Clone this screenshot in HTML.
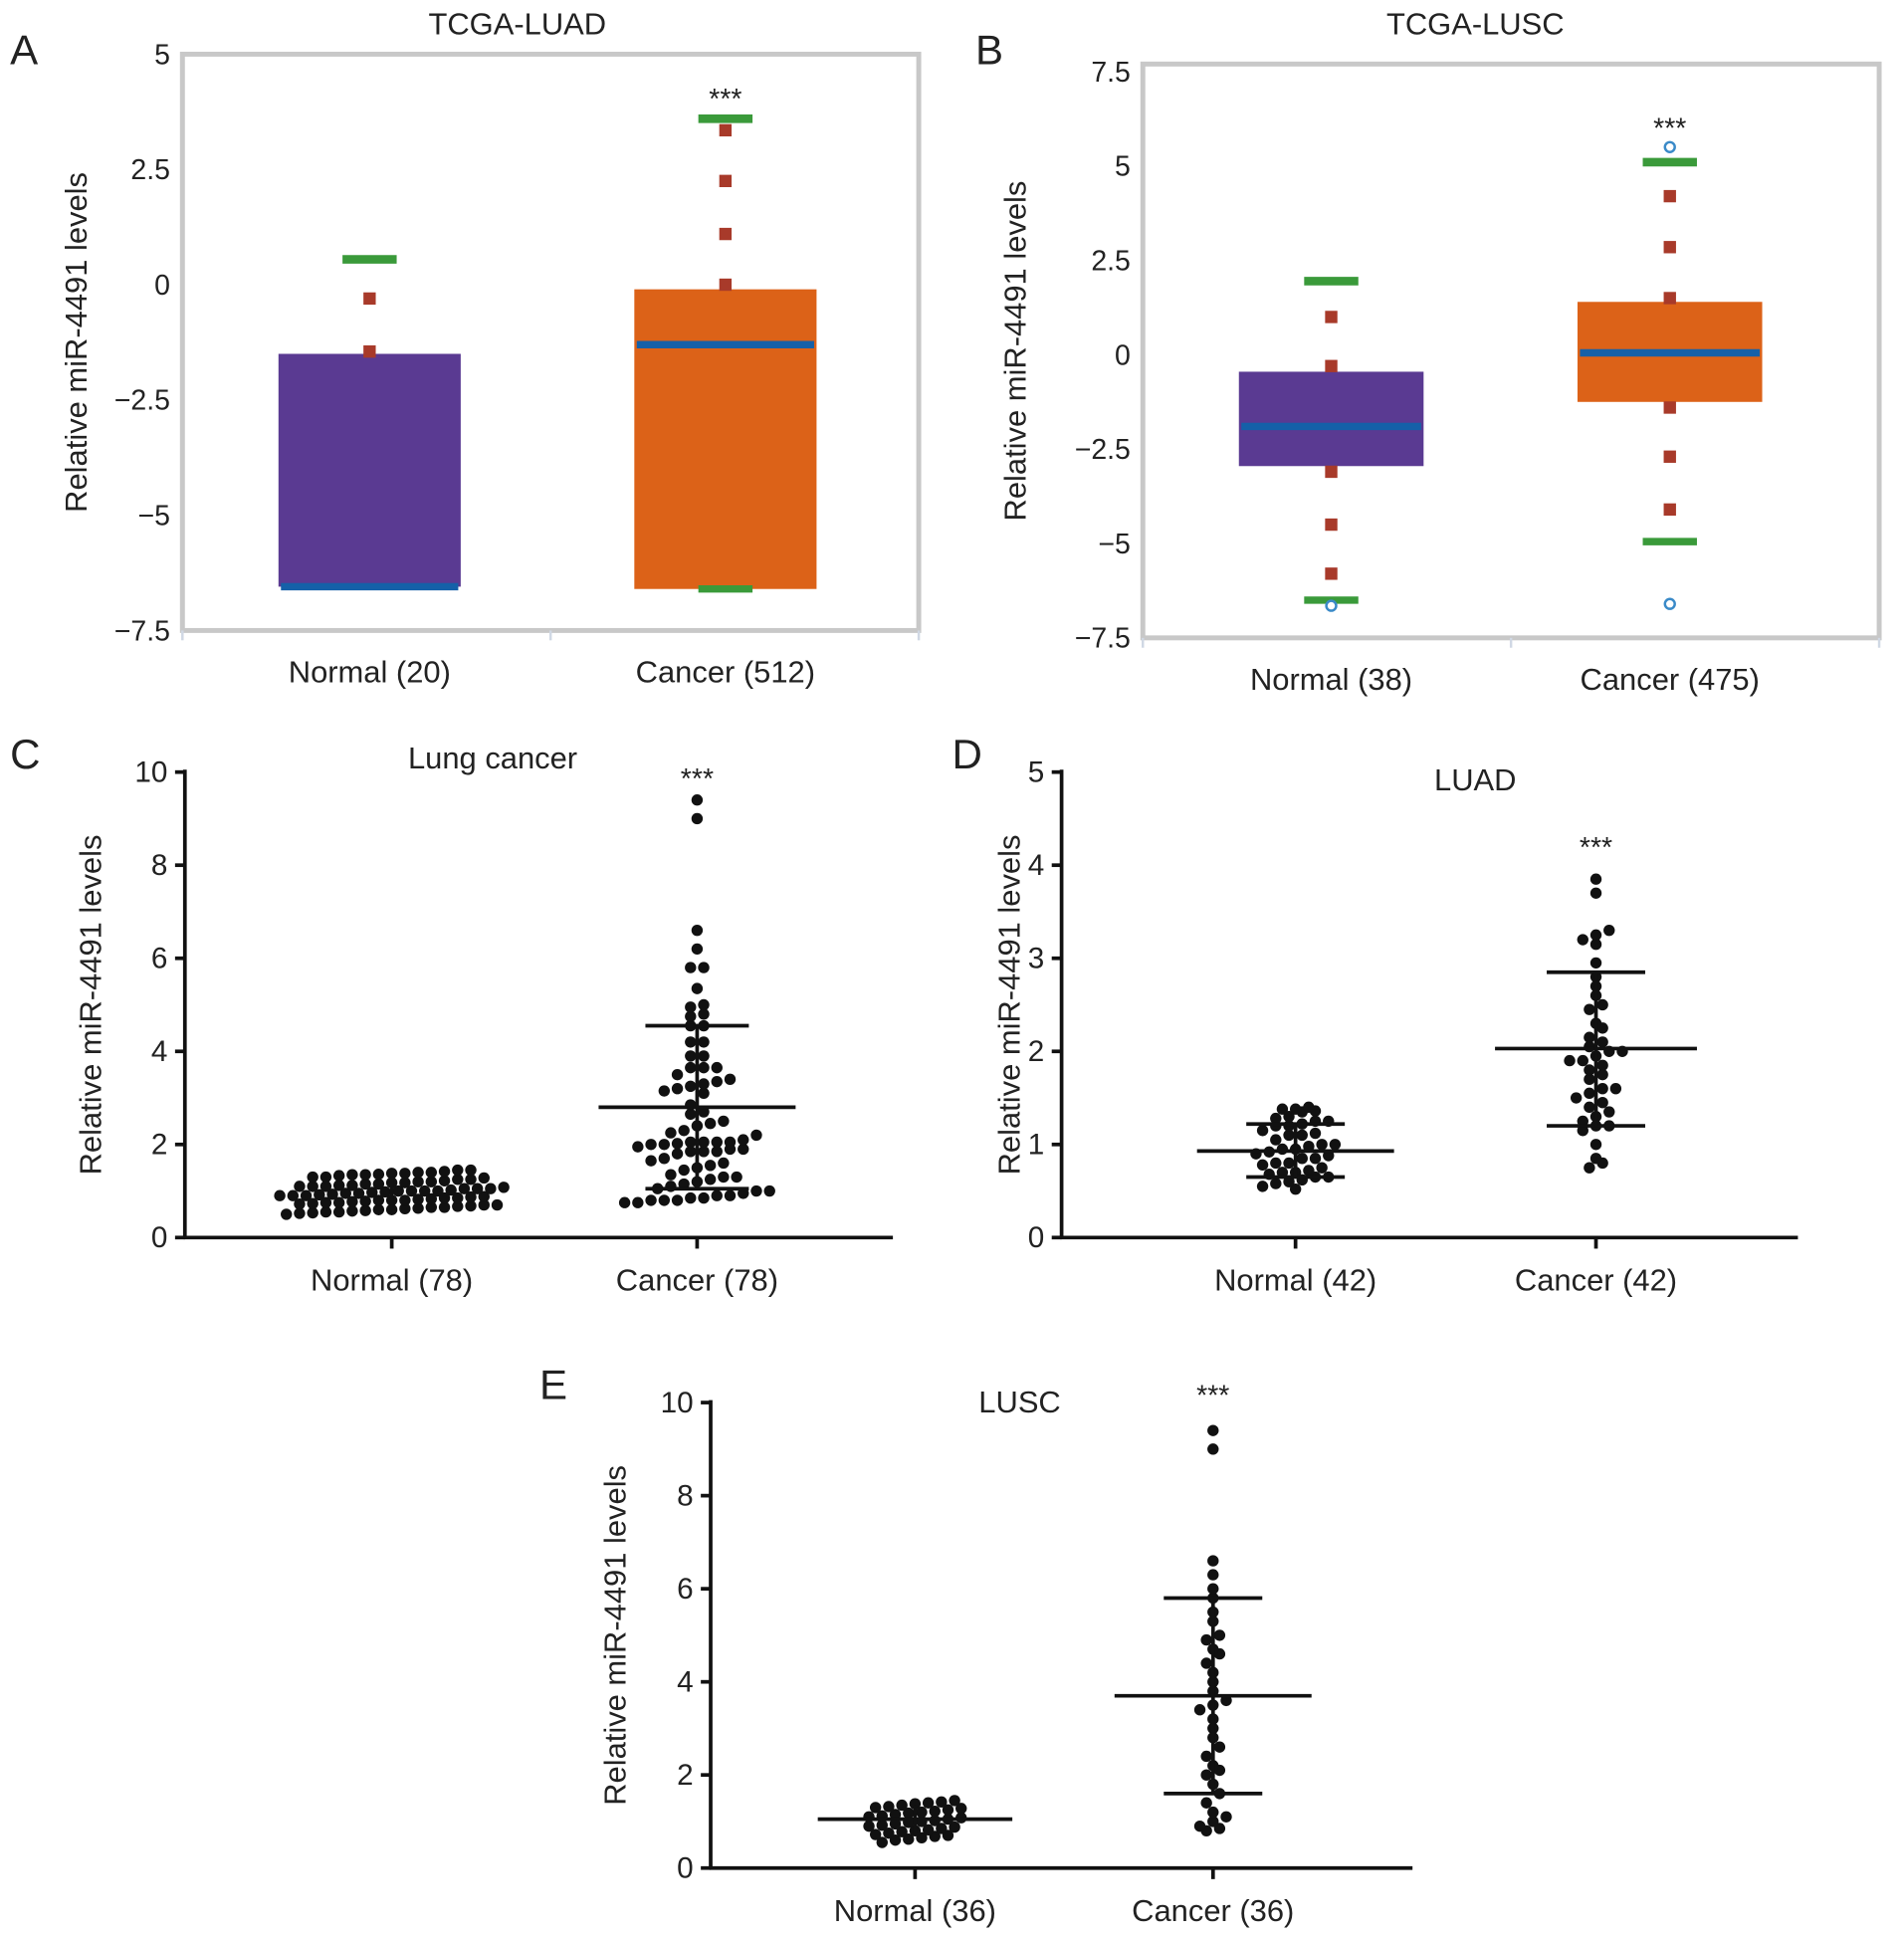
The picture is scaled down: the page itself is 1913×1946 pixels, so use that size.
<!DOCTYPE html>
<html><head><meta charset="utf-8"><style>
html,body{margin:0;padding:0;background:#fff}
svg{display:block}
text{font-family:"Liberation Sans",Arial,sans-serif;fill:#222}
</style></head><body>
<svg id="fig" width="1913" height="1946" viewBox="0 0 1546 1573" xmlns="http://www.w3.org/2000/svg"></svg>
<script>
// ---------- Panel A data ----------
const aCategories = ["Normal (20)", "Cancer (512)"];
const aQ1 = [-6.55, -6.6];
const aQ3 = [-1.5, -0.1];
const aMedian = [-6.55, -1.3];
const aWhiskerHi = [0.55, 3.6];
const aWhiskerLo = [null, -6.6];
const aOutliers = [[-0.3, -1.45], [3.35, 2.25, 1.1, 0.0]];
const aCircles = [[], []];
const aTicks = [5, 2.5, 0, -2.5, -5, -7.5];
const aTickLabels = ["5", "2.5", "0", "\u22122.5", "\u22125", "\u22127.5"];
// ---------- Panel B data ----------
const bCategories = ["Normal (38)", "Cancer (475)"];
const bQ1 = [-2.95, -1.25];
const bQ3 = [-0.45, 1.4];
const bMedian = [-1.9, 0.05];
const bWhiskerHi = [1.95, 5.1];
const bWhiskerLo = [-6.5, -4.95];
const bOutliers = [[1.0, -0.3, -3.1, -4.5, -5.8], [4.2, 2.85, 1.5, -1.4, -2.7, -4.1]];
const bCircles = [[-6.65], [5.5, -6.6]];
const bTicks = [7.5, 5, 2.5, 0, -2.5, -5, -7.5];
const bTickLabels = ["7.5", "5", "2.5", "0", "\u22122.5", "\u22125", "\u22127.5"];
// ---------- Panel C data ----------
const cCategories = ["Normal (78)", "Cancer (78)"];
const cNormal = [1.45,1.45,1.42,1.4,1.4,1.38,1.38,1.36,1.35,1.35,1.33,1.3,1.3,1.28,1.25,1.25,1.22,1.2,1.2,1.18,1.15,1.15,1.12,1.1,1.1,1.1,1.08,1.05,1.05,1.05,1.02,1.0,1.0,1.0,0.98,0.97,0.95,0.95,0.93,0.92,0.9,0.9,0.88,0.87,0.85,0.85,0.83,0.82,0.8,0.8,0.8,0.78,0.77,0.75,0.75,0.73,0.72,0.7,0.7,0.68,0.67,0.65,0.65,0.63,0.62,0.6,0.6,0.58,0.57,0.55,0.55,0.53,0.52,0.5,1.12,1.18,0.9,1.0];
const cCancer = [9.4,9.0,6.6,6.2,5.8,5.8,5.35,5.0,4.95,4.8,4.75,4.55,4.55,4.2,4.2,3.9,3.9,3.65,3.65,3.65,3.5,3.4,3.35,3.3,3.25,3.2,3.15,3.1,2.85,2.7,2.65,2.5,2.45,2.4,2.3,2.25,2.2,2.1,2.05,2.05,2.05,2.05,2.02,2.0,2.0,1.95,1.9,1.9,1.85,1.85,1.85,1.8,1.7,1.65,1.6,1.55,1.5,1.45,1.35,1.3,1.3,1.25,1.2,1.15,1.1,1.05,1.0,1.0,0.95,0.9,0.9,0.85,0.85,0.8,0.8,0.8,0.75,0.75];
const cMean = [1.0, 2.8];
const cSdHi = [1.3, 4.55];
const cSdLo = [0.7, 1.05];
const cTicks = [0, 2, 4, 6, 8, 10];
// ---------- Panel D data ----------
const dCategories = ["Normal (42)", "Cancer (42)"];
const dNormal = [1.4,1.38,1.38,1.36,1.35,1.3,1.28,1.25,1.25,1.22,1.2,1.2,1.15,1.12,1.1,1.1,1.05,1.0,1.0,0.98,0.95,0.95,0.92,0.9,0.88,0.85,0.85,0.8,0.8,0.78,0.75,0.72,0.7,0.7,0.68,0.65,0.65,0.62,0.6,0.58,0.55,0.52];
const dCancer = [3.85,3.7,3.3,3.25,3.2,3.15,2.95,2.8,2.7,2.6,2.5,2.45,2.3,2.25,2.15,2.1,2.05,2.0,2.0,1.95,1.9,1.9,1.85,1.8,1.75,1.7,1.6,1.6,1.55,1.5,1.45,1.4,1.35,1.3,1.25,1.2,1.2,1.15,1.0,0.85,0.8,0.75];
const dMean = [0.93, 2.03];
const dSdHi = [1.22, 2.85];
const dSdLo = [0.65, 1.2];
const dTicks = [0, 1, 2, 3, 4, 5];
// ---------- Panel E data ----------
const eCategories = ["Normal (36)", "Cancer (36)"];
const eNormal = [1.45,1.42,1.4,1.38,1.35,1.32,1.3,1.28,1.25,1.22,1.2,1.18,1.15,1.12,1.1,1.08,1.05,1.02,1.0,0.98,0.95,0.92,0.9,0.88,0.85,0.82,0.8,0.78,0.75,0.72,0.7,0.68,0.65,0.62,0.6,0.55];
const eCancer = [9.4,9.0,6.6,6.3,6.0,5.8,5.5,5.3,5.0,4.9,4.7,4.6,4.4,4.2,4.0,3.8,3.6,3.5,3.4,3.2,3.0,2.8,2.6,2.4,2.2,2.1,2.0,1.8,1.6,1.4,1.2,1.1,1.0,0.9,0.85,0.8];
const eMean = [1.05, 3.7];
const eSdHi = [1.35, 5.8];
const eSdLo = [0.75, 1.6];
const eTicks = [0, 2, 4, 6, 8, 10];

const NS = "http://www.w3.org/2000/svg";
const svg = document.getElementById("fig");
function mk(tag, attrs, parent, name, inter) {
  const e = document.createElementNS(NS, tag);
  for (const k in attrs) e.setAttribute(k, attrs[k]);
  
  
  (parent || svg).appendChild(e);
  return e;
}
function txt(s, x, y, size, anchor, parent, name, extra) {
  const t = mk("text", Object.assign({x: x, y: y, "font-size": size, "text-anchor": anchor || "middle"}, extra || {}), parent, name);
  t.textContent = s;
  return t;
}
function scale(d0, d1, r0, r1) { return v => r0 + (v - d0) * (r1 - r0) / (d1 - d0); }

function boxPanel(o) {
  const g = mk("g", {}, svg, o.name);
  const y = scale(o.ymax, o.ymin, o.top, o.bottom);
  mk("rect", {x: o.left, y: o.top, width: o.right - o.left, height: o.bottom - o.top, fill: "none", stroke: "#c8c8c8", "stroke-width": 4}, g, "plot-frame");
  o.ticks.forEach((t, i) => {
    txt(o.tickLabels[i], o.left - 10, y(t) + 8, 23, "end", g, "y-tick-label");
  });
  const half = (o.right - o.left) / 2;
  [o.left, o.left + half, o.right].forEach(xx => mk("line", {x1: xx, x2: xx, y1: o.bottom, y2: o.bottom + 8, stroke: "#d0d8e4", "stroke-width": 2}, g, "x-tick"));
  o.cats.forEach((c, i) => {
    const cx = o.cx[i], hw = o.boxW / 2;
    txt(c, cx, o.bottom + 42, 25, "middle", g, "x-category-label");
    mk("rect", {x: cx - hw, y: y(o.q3[i]), width: o.boxW, height: y(o.q1[i]) - y(o.q3[i]), fill: o.colors[i]}, g, "box-" + (i ? "cancer" : "normal"));
    mk("line", {x1: cx - hw + 2, x2: cx + hw - 2, y1: y(o.med[i]), y2: y(o.med[i]), stroke: "#1560a8", "stroke-width": 6}, g, "median-line");
    if (o.whi[i] !== null) mk("line", {x1: cx - 22, x2: cx + 22, y1: y(o.whi[i]), y2: y(o.whi[i]), stroke: "#3a9a3a", "stroke-width": 7}, g, "whisker-cap-high");
    if (o.wlo[i] !== null) mk("line", {x1: cx - 22, x2: cx + 22, y1: y(o.wlo[i]), y2: y(o.wlo[i]), stroke: "#3a9a3a", "stroke-width": 6}, g, "whisker-cap-low");
    o.out[i].forEach(v => mk("rect", {x: cx - 5, y: y(v) - 5, width: 10, height: 10, fill: "#a83a2a"}, g, "outlier-point"));
    o.circ[i].forEach(v => mk("circle", {cx: cx, cy: y(v), r: 4, fill: "#fff", stroke: "#3a8ac8", "stroke-width": 2}, g, "extreme-point"));
  });
  txt(o.title, o.titleX, 28, 25, "middle", g, "panel-title");
  txt("***", o.cx[1], o.starY, 23, "middle", g, "significance-marker");
  txt("Relative miR-4491 levels", 0, 0, 25, "middle", g, "y-axis-title", {transform: "translate(" + o.ytX + "," + ((o.top + o.bottom) / 2) + ") rotate(-90)"});
  txt(o.letter, o.letterX, 52, 34, "start", g, "panel-letter");
}
boxPanel({name: "panel-a", letter: "A", letterX: 8, left: 148, right: 746, top: 44, bottom: 512, ymax: 5, ymin: -7.5,
  ticks: aTicks, tickLabels: aTickLabels, cats: aCategories, cx: [300, 589], boxW: 148,
  q1: aQ1, q3: aQ3, med: aMedian, whi: aWhiskerHi, wlo: aWhiskerLo, out: aOutliers, circ: aCircles,
  colors: ["#5a3a92", "#dc6218"], title: "TCGA-LUAD", titleX: 420, starY: 88, ytX: 70});
boxPanel({name: "panel-b", letter: "B", letterX: 792, left: 928, right: 1526, top: 52, bottom: 518, ymax: 7.7, ymin: -7.5,
  ticks: bTicks, tickLabels: bTickLabels, cats: bCategories, cx: [1081, 1356], boxW: 150,
  q1: bQ1, q3: bQ3, med: bMedian, whi: bWhiskerHi, wlo: bWhiskerLo, out: bOutliers, circ: bCircles,
  colors: ["#5a3a92", "#dc6218"], title: "TCGA-LUSC", titleX: 1198, starY: 112, ytX: 833});

// row-binned scatter layout (positions derived from values)
function swarm(vals, cx, y, r, bin) {
  const rows = {};
  vals.slice().sort((a, b) => a - b).forEach(v => {
    const k = Math.round(v / bin);
    (rows[k] = rows[k] || []).push(v);
  });
  const pts = [];
  Object.keys(rows).forEach(k => {
    const row = rows[k], n = row.length, sp = 2 * r + 1.5;
    row.forEach((v, j) => pts.push([cx + (j - (n - 1) / 2) * sp, y(v)]));
  });
  return pts;
}
function dotPanel(o) {
  const g = mk("g", {}, svg, o.name);
  const y = scale(0, o.ymax, o.y0, o.yTop);
  mk("line", {x1: o.left, x2: o.left, y1: o.yTop - 2, y2: o.y0 + 1, stroke: "#111", "stroke-width": 3}, g, "y-axis-line");
  mk("line", {x1: o.left - 1, x2: o.right, y1: o.y0, y2: o.y0, stroke: "#111", "stroke-width": 3}, g, "x-axis-line");
  o.ticks.forEach(t => {
    mk("line", {x1: o.left - 8, x2: o.left, y1: y(t), y2: y(t), stroke: "#111", "stroke-width": 3}, g, "y-tick");
    txt(String(t), o.left - 14, y(t) + 8, 24, "end", g, "y-tick-label");
  });
  const series = [o.normal, o.cancer];
  o.cats.forEach((c, i) => {
    const cx = o.cx[i];
    mk("line", {x1: cx, x2: cx, y1: o.y0, y2: o.y0 + 9, stroke: "#111", "stroke-width": 3}, g, "x-tick");
    txt(c, cx, o.y0 + 43, 25, "middle", g, "x-category-label");
    swarm(series[i], cx, y, 4.6, o.bins[i]).forEach(p => mk("circle", {cx: p[0], cy: p[1], r: 4.6, fill: "#111"}, g, "data-point"));
    const mw = o.meanW[i], sw = o.sdW[i];
    mk("line", {x1: cx - mw, x2: cx + mw, y1: y(o.mean[i]), y2: y(o.mean[i]), stroke: "#111", "stroke-width": 3}, g, "mean-line");
    mk("line", {x1: cx - sw, x2: cx + sw, y1: y(o.hi[i]), y2: y(o.hi[i]), stroke: "#111", "stroke-width": 3}, g, "sd-cap-high");
    mk("line", {x1: cx - sw, x2: cx + sw, y1: y(o.lo[i]), y2: y(o.lo[i]), stroke: "#111", "stroke-width": 3}, g, "sd-cap-low");
    mk("line", {x1: cx, x2: cx, y1: y(o.hi[i]), y2: y(o.lo[i]), stroke: "#111", "stroke-width": 3}, g, "sd-bar");
  });
  txt(o.title, o.titleX, o.titleY, 25, "middle", g, "panel-title");
  txt("***", o.cx[1], o.starY, 23, "middle", g, "significance-marker");
  txt("Relative miR-4491 levels", 0, 0, 25, "middle", g, "y-axis-title", {transform: "translate(" + o.ytX + "," + ((o.y0 + o.yTop) / 2) + ") rotate(-90)"});
  txt(o.letter, o.letterX, o.letterY, 34, "start", g, "panel-letter");
}
dotPanel({name: "panel-c", letter: "C", letterX: 8, letterY: 624, left: 150, right: 725, y0: 1005, yTop: 627, ymax: 10,
  ticks: cTicks, cats: cCategories, cx: [318, 566], normal: cNormal, cancer: cCancer, bins: [0.2, 0.3],
  mean: cMean, hi: cSdHi, lo: cSdLo, meanW: [0, 80], sdW: [0, 42],
  title: "Lung cancer", titleX: 400, titleY: 624, starY: 640, ytX: 82});
dotPanel({name: "panel-d", letter: "D", letterX: 773, letterY: 624, left: 862, right: 1460, y0: 1005, yTop: 627, ymax: 5,
  ticks: dTicks, cats: dCategories, cx: [1052, 1296], normal: dNormal, cancer: dCancer, bins: [0.12, 0.13],
  mean: dMean, hi: dSdHi, lo: dSdLo, meanW: [80, 82], sdW: [40, 40],
  title: "LUAD", titleX: 1198, titleY: 642, starY: 696, ytX: 828});
dotPanel({name: "panel-e", letter: "E", letterX: 438, letterY: 1136, left: 577, right: 1147, y0: 1517, yTop: 1139, ymax: 10,
  ticks: eTicks, cats: eCategories, cx: [743, 985], normal: eNormal, cancer: eCancer, bins: [0.2, 0.25],
  mean: eMean, hi: eSdHi, lo: eSdLo, meanW: [79, 80], sdW: [0, 40],
  title: "LUSC", titleX: 828, titleY: 1147, starY: 1141, ytX: 508});
</script>
</body></html>
